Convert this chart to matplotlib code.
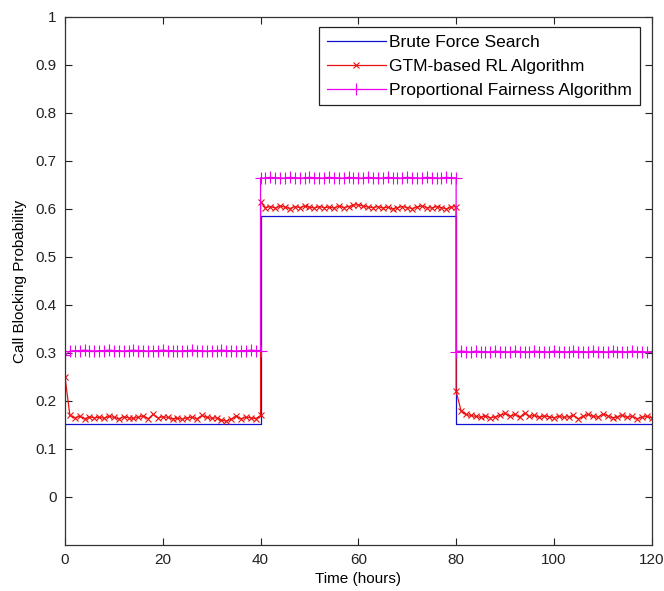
import numpy as np
import matplotlib
matplotlib.use("Agg")
import matplotlib.pyplot as plt

plt.rcParams['font.family'] = ['Liberation Sans', 'DejaVu Sans']

# ---- data ----
segment_bounds = [0, 40, 80, 120]          # hours
bf_levels = [0.152, 0.585, 0.152]          # Brute Force Search

# GTM-based RL algorithm, hourly samples per segment (t=0..40, 40..80, 80..120)
gtm_seg1 = [0.250, 0.170, 0.165, 0.168, 0.163, 0.167, 0.165, 0.166, 0.164, 0.168,
            0.166, 0.163, 0.167, 0.165, 0.164, 0.166, 0.169, 0.163, 0.172, 0.165,
            0.167, 0.166, 0.163, 0.164, 0.162, 0.165, 0.166, 0.163, 0.170, 0.166,
            0.164, 0.165, 0.160, 0.158, 0.162, 0.169, 0.163, 0.166, 0.165, 0.163,
            0.170]
gtm_seg2 = [0.615, 0.603, 0.605, 0.602, 0.606, 0.604, 0.601, 0.605, 0.603, 0.606,
            0.604, 0.602, 0.605, 0.603, 0.604, 0.602, 0.606, 0.603, 0.605, 0.608,
            0.609, 0.606, 0.604, 0.603, 0.605, 0.602, 0.604, 0.600, 0.603, 0.605,
            0.603, 0.601, 0.604, 0.606, 0.603, 0.602, 0.605, 0.603, 0.600, 0.604,
            0.605]
gtm_seg3 = [0.220, 0.180, 0.172, 0.170, 0.168, 0.166, 0.169, 0.165, 0.167, 0.170,
            0.174, 0.168, 0.172, 0.166, 0.175, 0.168, 0.170, 0.166, 0.169, 0.167,
            0.165, 0.168, 0.166, 0.167, 0.170, 0.163, 0.168, 0.172, 0.168, 0.166,
            0.173, 0.169, 0.165, 0.167, 0.170, 0.166, 0.168, 0.163, 0.166, 0.168,
            0.165]

# Proportional Fairness algorithm
pf_seg1 = [0.295] + [0.304, 0.305, 0.305, 0.306, 0.305, 0.304, 0.305, 0.305, 0.306,
                     0.305, 0.305, 0.304, 0.305, 0.306, 0.305, 0.305, 0.304, 0.305,
                     0.305, 0.306, 0.305, 0.305, 0.304, 0.305, 0.305, 0.306, 0.305,
                     0.305, 0.304, 0.305, 0.305, 0.306, 0.305, 0.305, 0.304, 0.305,
                     0.305, 0.306, 0.305, 0.305]
pf_seg2 = [0.665, 0.664, 0.666, 0.665, 0.665, 0.664, 0.666, 0.665, 0.665, 0.664,
           0.666, 0.665, 0.665, 0.664, 0.666, 0.665, 0.665, 0.664, 0.666, 0.665,
           0.665, 0.664, 0.666, 0.665, 0.665, 0.664, 0.666, 0.665, 0.665, 0.664,
           0.666, 0.665, 0.665, 0.664, 0.666, 0.665, 0.665, 0.664, 0.666, 0.665,
           0.665]
pf_seg3 = [0.303, 0.304, 0.303, 0.302, 0.304, 0.303, 0.303, 0.302, 0.304, 0.303,
           0.303, 0.302, 0.304, 0.303, 0.303, 0.302, 0.304, 0.303, 0.303, 0.302,
           0.304, 0.303, 0.303, 0.302, 0.304, 0.303, 0.303, 0.302, 0.304, 0.303,
           0.303, 0.302, 0.304, 0.303, 0.303, 0.302, 0.304, 0.303, 0.303, 0.302,
           0.303]

labels = ['Brute Force Search', 'GTM-based RL Algorithm', 'Proportional Fairness Algorithm']
x_ticks = [0, 20, 40, 60, 80, 100, 120]
y_ticks = [0, 0.1, 0.2, 0.3, 0.4, 0.5, 0.6, 0.7, 0.8, 0.9, 1]

# ---- derived ----
t = np.concatenate([np.arange(segment_bounds[i], segment_bounds[i + 1] + 1)
                    for i in range(3)])
gtm = np.array(gtm_seg1 + gtm_seg2 + gtm_seg3)
pf = np.array(pf_seg1 + pf_seg2 + pf_seg3)
t_bf = np.repeat(segment_bounds, 2)[1:-1]
bf = np.repeat(bf_levels, 2)

fig = plt.figure(figsize=(6.64, 5.91), dpi=100)
ax = fig.add_axes([65 / 664, 46 / 591, (651.7 - 65) / 664, (545 - 17) / 591])

ax.plot(t_bf, bf, color='#1010d0', lw=0.9, label=labels[0])
ax.plot(t, gtm, color='#ee1111', lw=0.9, marker='x', ms=4.5, mew=0.8, label=labels[1])
ax.plot(t, pf, color='#ee00ee', lw=0.9, marker='+', ms=9, mew=0.8, label=labels[2])

ax.set_xlim(0, 120)
ax.set_ylim(-0.1, 1)
ax.set_xticks(x_ticks)
ax.set_xticklabels([str(v) for v in x_ticks])
ax.set_yticks(y_ticks)
ax.set_yticklabels(['0' if v == 0 else ('1' if v == 1 else f'{v:.1f}') for v in y_ticks])
ax.tick_params(direction='in', top=True, right=True, length=5, width=0.8,
               labelsize=11, colors='#222222', pad=6)
for s in ax.spines.values():
    s.set_linewidth(0.9)
    s.set_color('#333333')

ax.set_xlabel('Time (hours)', fontsize=11, labelpad=3)
ax.set_ylabel('Call Blocking Probability', fontsize=11, labelpad=6)

leg = ax.legend(loc='upper right', bbox_to_anchor=(1 - 11.7 / 586.7, 1 - 10 / 528),
                fontsize=12.5, frameon=True, fancybox=False, edgecolor='#222222',
                framealpha=1, handlelength=3.4, handletextpad=0.2,
                labelspacing=0.5, borderpad=0.45, borderaxespad=0)
leg.get_frame().set_linewidth(0.9)

fig.savefig('out.png', dpi=100)
